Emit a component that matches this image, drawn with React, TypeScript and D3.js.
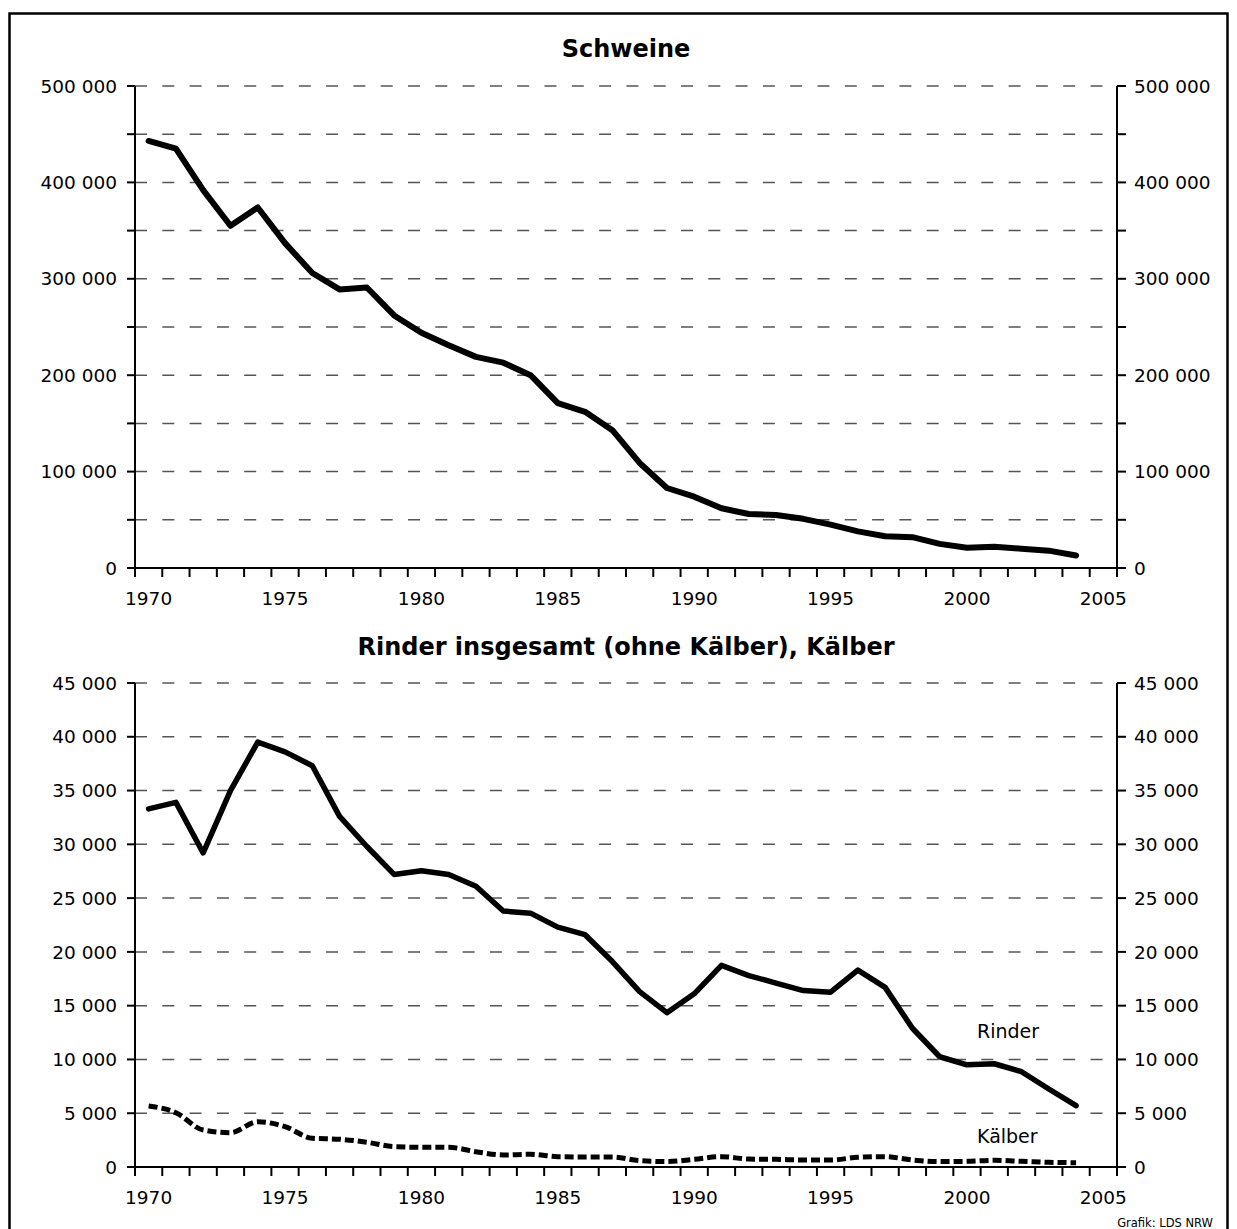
import React from 'react';
import * as d3 from 'd3';

// categories (one band per year, 2005 is the empty last band)
const years = [
  1970, 1971, 1972, 1973, 1974, 1975, 1976, 1977, 1978, 1979,
  1980, 1981, 1982, 1983, 1984, 1985, 1986, 1987, 1988, 1989,
  1990, 1991, 1992, 1993, 1994, 1995, 1996, 1997, 1998, 1999,
  2000, 2001, 2002, 2003, 2004,
];
const axisYears = [...years, 2005];
const yearLabels = [1970, 1975, 1980, 1985, 1990, 1995, 2000, 2005];

// Schweine
const schweine = [
  443000, 435000, 392000, 355000, 374000, 337000, 306000, 289000, 291000, 262000,
  244000, 231000, 219000, 213000, 200000, 171000, 162000, 143000, 109000, 83000,
  74000, 62000, 56000, 55000, 51000, 45000, 38000, 33000, 32000, 25000,
  21000, 22000, 20000, 18000, 13000,
];

// Rinder insgesamt (ohne Kälber)
const rinder = [
  33300, 33900, 29200, 35000, 39500, 38600, 37300, 32600, 29800, 27200,
  27550, 27200, 26100, 23800, 23600, 22300, 21600, 19100, 16300, 14350,
  16100, 18750, 17800, 17100, 16400, 16250, 18300, 16700, 12900, 10250,
  9500, 9600, 8860, 7250, 5700,
];

// Kälber
const kaelber = [
  5670, 5050, 3440, 3190, 4210, 3750, 2670, 2580, 2300, 1890,
  1830, 1830, 1420, 1120, 1180, 960, 930, 930, 590, 500,
  710, 960, 740, 710, 650, 650, 900, 960, 650, 500,
  530, 620, 530, 440, 400,
];

const schweineLabelTicks = [0, 100000, 200000, 300000, 400000, 500000];
const schweineGridTicks = [50000, 100000, 150000, 200000, 250000, 300000, 350000, 400000, 450000, 500000];
const rinderTicks = [0, 5000, 10000, 15000, 20000, 25000, 30000, 35000, 40000, 45000];

const FONT = '"DejaVu Sans", sans-serif';
const fmt = d3.formatLocale({ decimal: ',', thousands: ' ', grouping: [3], currency: ['', ''] }).format(',');

const x = d3.scaleBand<number>().domain(axisYears).range([135, 1117]).padding(0);
const cx = (yr: number) => (x(yr) ?? 0) + x.bandwidth() / 2;

interface PanelProps {
  y: d3.ScaleLinear<number, number>;
  labelTicks: number[];
  gridTicks: number[];
  title: string;
  titleY: number;
  children?: React.ReactNode;
}

function Panel({ y, labelTicks, gridTicks, title, titleY, children }: PanelProps) {
  const [x0, x1] = x.range();
  const [yBottom, yTop] = y.range();
  const allTicks = Array.from(new Set([...labelTicks, ...gridTicks]));
  const boundaries = [...axisYears.map(d => x(d) ?? 0), x1];
  return (
    <g>
      <text x={(x0 + x1) / 2} y={titleY} textAnchor="middle" fontFamily={FONT} fontWeight="bold" fontSize={24}>
        {title}
      </text>
      {gridTicks.map(t => (
        <line key={'g' + t} x1={x0} x2={x1} y1={y(t)} y2={y(t)} stroke="#555" strokeWidth={1.5} strokeDasharray="12 15.3" />
      ))}
      {/* axes */}
      <line x1={x0} x2={x0} y1={yTop} y2={yBottom} stroke="#000" strokeWidth={2} />
      <line x1={x1} x2={x1} y1={yTop} y2={yBottom} stroke="#000" strokeWidth={2} />
      <line x1={x0 - 8} x2={x1 + 9} y1={yBottom} y2={yBottom} stroke="#000" strokeWidth={2} />
      {allTicks.map(t => (
        <g key={'t' + t}>
          <line x1={x0 - 8} x2={x0} y1={y(t)} y2={y(t)} stroke="#000" strokeWidth={2} />
          <line x1={x1} x2={x1 + 9} y1={y(t)} y2={y(t)} stroke="#000" strokeWidth={2} />
        </g>
      ))}
      {labelTicks.map(t => (
        <g key={'l' + t} fontFamily={FONT} fontSize={18.5} fill="#000">
          <text x={x0 - 18} y={y(t)} dy="0.36em" textAnchor="end">{fmt(t)}</text>
          <text x={x1 + 17} y={y(t)} dy="0.36em" textAnchor="start">{fmt(t)}</text>
        </g>
      ))}
      {boundaries.map((b, i) => (
        <line key={'b' + i} x1={b} x2={b} y1={yBottom} y2={yBottom + 9} stroke="#000" strokeWidth={2} />
      ))}
      {yearLabels.map(yr => (
        <text key={'x' + yr} x={cx(yr)} y={yBottom + 37} textAnchor="middle" fontFamily={FONT} fontSize={18.5}>
          {yr}
        </text>
      ))}
      {children}
    </g>
  );
}

export default function App() {
  const yTop = d3.scaleLinear().domain([0, 500000]).range([568, 86]);
  const yBot = d3.scaleLinear().domain([0, 45000]).range([1167, 683]);

  const lineTop = d3.line<number>().x((_, i) => cx(years[i])).y(d => yTop(d));
  const lineBot = d3.line<number>().x((_, i) => cx(years[i])).y(d => yBot(d));
  const lineCalves = d3.line<number>().x((_, i) => cx(years[i])).y(d => yBot(d)).curve(d3.curveMonotoneX);

  return (
    <svg width={1237} height={1229} style={{ position: 'absolute', left: 0, top: 0, background: '#fff' }}>
      <rect x={9.5} y={13.5} width={1218} height={1240} fill="none" stroke="#000" strokeWidth={2.5} />
      <Panel y={yTop} labelTicks={schweineLabelTicks} gridTicks={schweineGridTicks} title="Schweine" titleY={57}>
        <path d={lineTop(schweine) ?? ''} fill="none" stroke="#000" strokeWidth={6} strokeLinejoin="round" strokeLinecap="round" />
      </Panel>
      <Panel y={yBot} labelTicks={rinderTicks} gridTicks={rinderTicks.filter(t => t > 0)} title="Rinder insgesamt (ohne Kälber), Kälber" titleY={655}>
        <path d={lineBot(rinder) ?? ''} fill="none" stroke="#000" strokeWidth={5.5} strokeLinejoin="round" strokeLinecap="round" />
        <path d={lineCalves(kaelber) ?? ''} fill="none" stroke="#000" strokeWidth={5} strokeDasharray="9 4" />
        <text x={977} y={1038} fontFamily={FONT} fontSize={19}>Rinder</text>
        <text x={977} y={1143} fontFamily={FONT} fontSize={19}>Kälber</text>
      </Panel>
      <text x={1213} y={1227} textAnchor="end" fontFamily={FONT} fontSize={11.5}>Grafik: LDS NRW</text>
    </svg>
  );
}
